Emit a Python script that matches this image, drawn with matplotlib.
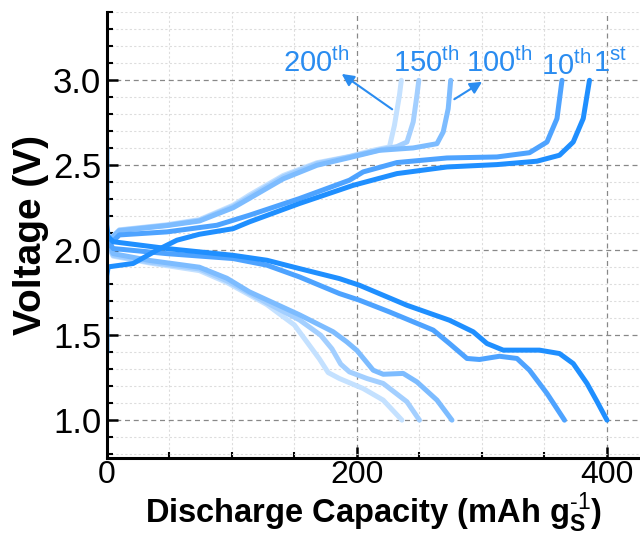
import matplotlib
matplotlib.use('Agg')
import matplotlib.pyplot as plt
from matplotlib.ticker import MultipleLocator, FormatStrFormatter

plt.rcParams['font.family'] = ['Liberation Sans', 'DejaVu Sans']
plt.rcParams['mathtext.fontset'] = 'custom'
plt.rcParams['mathtext.rm'] = 'Liberation Sans'
plt.rcParams['mathtext.bf'] = 'Liberation Sans:bold'

# cycle labels and colours (1st darkest -> 200th lightest)
cycles = ['1st', '10th', '100th', '150th', '200th']
colors = ['#1f8fff', '#4ea3ff', '#7dbcff', '#a3cfff', '#c4e1ff']

# discharge curves (capacity, voltage)
dis_x = [
    [0, 0, 1, 5, 48, 101, 128, 154, 186, 202, 240, 274, 293, 304, 317, 346, 362, 373, 384, 392, 400],
    [0.5, 5, 48, 101, 128, 154, 186, 202, 226, 261, 274, 288, 298, 314, 328, 338, 352, 366],
    [0.5, 5, 34, 74, 96, 114, 154, 181, 192, 200, 213, 221, 237, 248, 264, 276],
    [0.5, 5, 34, 74, 96, 128, 154, 171, 180, 187, 194, 208, 221, 240, 250],
    [0.5, 5, 34, 74, 96, 128, 150, 160, 170, 177, 186, 205, 221, 236],
]
dis_y = [
    [2.6, 2.15, 2.08, 2.05, 2.01, 1.97, 1.941, 1.892, 1.833, 1.794, 1.676, 1.588, 1.52, 1.451, 1.412, 1.412, 1.392, 1.333, 1.216, 1.11, 1.0],
    [2.06, 2.01, 1.98, 1.951, 1.912, 1.843, 1.745, 1.706, 1.637, 1.53, 1.451, 1.363, 1.357, 1.376, 1.363, 1.294, 1.157, 1.0],
    [2.05, 1.98, 1.94, 1.90, 1.835, 1.755, 1.62, 1.52, 1.46, 1.41, 1.294, 1.27, 1.275, 1.225, 1.118, 1.0],
    [2.04, 1.97, 1.93, 1.89, 1.82, 1.69, 1.59, 1.50, 1.42, 1.33, 1.284, 1.245, 1.216, 1.108, 1.0],
    [2.03, 1.965, 1.925, 1.88, 1.81, 1.68, 1.56, 1.46, 1.36, 1.28, 1.245, 1.186, 1.118, 1.0],
]

# charge curves (capacity, voltage)
chg_x = [
    [0, 0, 1, 21, 40, 56, 74, 101, 114, 154, 197, 232, 272, 312, 344, 362, 373, 381, 386],
    [0.5, 10, 48, 88, 114, 154, 194, 205, 232, 272, 312, 338, 352, 360, 364],
    [0.5, 10, 48, 74, 101, 114, 141, 168, 194, 218, 245, 264, 269, 273, 275],
    [0.5, 10, 48, 74, 101, 114, 141, 168, 194, 218, 232, 240, 245, 248, 249.5],
    [0.5, 10, 48, 74, 101, 114, 141, 168, 194, 214, 226, 230, 234, 235.5],
]
chg_y = [
    [1.4, 1.85, 1.902, 1.922, 2.0, 2.059, 2.094, 2.127, 2.167, 2.275, 2.382, 2.451, 2.49, 2.504, 2.524, 2.559, 2.637, 2.775, 3.0],
    [2.02, 2.09, 2.108, 2.147, 2.206, 2.304, 2.412, 2.461, 2.516, 2.543, 2.549, 2.574, 2.637, 2.775, 3.0],
    [2.05, 2.115, 2.145, 2.172, 2.25, 2.305, 2.42, 2.50, 2.545, 2.588, 2.602, 2.627, 2.696, 2.833, 3.0],
    [2.05, 2.118, 2.147, 2.176, 2.258, 2.315, 2.432, 2.51, 2.55, 2.59, 2.61, 2.637, 2.755, 2.912, 3.0],
    [2.05, 2.12, 2.15, 2.18, 2.265, 2.325, 2.44, 2.515, 2.552, 2.59, 2.608, 2.735, 2.912, 3.0],
]

# label positions (left edge, baseline) in data units
label_x = [389, 347, 287, 229, 141]
label_y = [3.05, 3.03, 3.05, 3.05, 3.05]

fig = plt.figure(figsize=(6.4, 5.37), dpi=100)
ax = fig.add_axes([0.167, 0.148, 0.833, 0.829])

for i in range(len(cycles) - 1, -1, -1):
    ax.plot(dis_x[i], dis_y[i], color=colors[i], lw=3.6, solid_capstyle='round', solid_joinstyle='round')
    ax.plot(chg_x[i], chg_y[i], color=colors[i], lw=3.6, solid_capstyle='round', solid_joinstyle='round')

for lab, lx, ly in zip(cycles, label_x, label_y):
    num, suf = lab[:-2], lab[-2:]
    ax.text(lx, ly, num + r'$^{\mathrm{' + suf + '}}$', color='#2a8cf0', fontsize=21,
            ha='left', va='baseline')

ax.annotate('', xy=(186, 3.047), xytext=(230, 2.82),
            arrowprops=dict(arrowstyle='-|>', color='#2a8cf0', lw=1.5, mutation_scale=18))
ax.annotate('', xy=(302, 3.0), xytext=(276, 2.88),
            arrowprops=dict(arrowstyle='-|>', color='#2a8cf0', lw=1.5, mutation_scale=18))

ax.set_xlim(0, 426.4)
ax.set_ylim(0.78, 3.4)
ax.xaxis.set_major_locator(MultipleLocator(200))
ax.xaxis.set_minor_locator(MultipleLocator(50))
ax.yaxis.set_major_locator(MultipleLocator(0.5))
ax.yaxis.set_minor_locator(MultipleLocator(0.1))
ax.yaxis.set_major_formatter(FormatStrFormatter('%.1f'))

ax.grid(which='major', color='#888888', ls=(0, (4, 3)), lw=0.9)
ax.grid(which='minor', color='#dddddd', ls=(0, (2, 2)), lw=0.8)
ax.set_axisbelow(True)

for s in ['top', 'right']:
    ax.spines[s].set_visible(False)
for s in ['left', 'bottom']:
    ax.spines[s].set_linewidth(2.2)

ax.tick_params(which='major', direction='in', length=8, width=1.8, labelsize=25, pad=4)
ax.tick_params(axis='x', which='major', labelsize=23, pad=2)
ax.tick_params(which='minor', direction='in', length=4, width=1.5)

ax.set_xlabel(r'Discharge Capacity (mAh g$_{\mathbf{S}}^{\text{-1}}$)', fontsize=23.5,
              fontweight='bold', labelpad=0)
ax.set_ylabel('Voltage (V)', fontsize=28, fontweight='bold', labelpad=3)

fig.savefig('out.png', dpi=100)
